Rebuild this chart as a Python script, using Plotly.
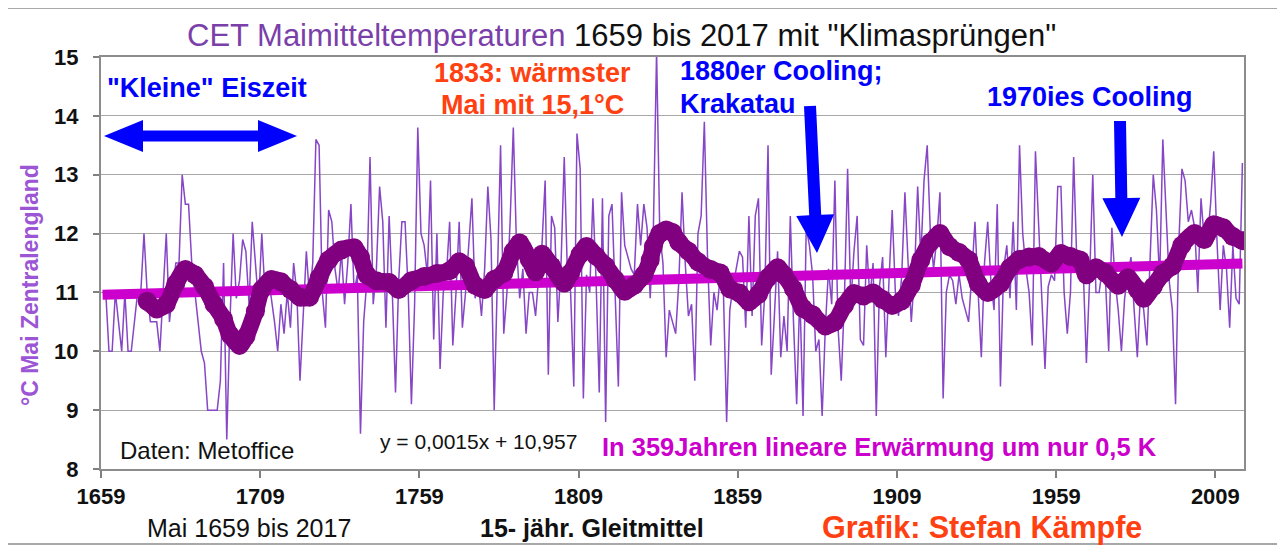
import math
import plotly.graph_objects as go

# ---------------- data ----------------
years = list(range(1659, 2018))
may_temp = [
    11.0, 11.0, 10.0, 10.0, 11.0, 10.5, 10.0, 11.0, 10.0, 10.0,   # 1659-1668
    10.5, 11.0, 11.0, 12.0, 11.0, 10.5, 10.5, 10.5, 10.0, 11.0,   # 1669-1678
    12.0, 10.5, 11.0, 11.5, 11.5, 13.0, 12.5, 12.5, 11.5, 11.0,   # 1679-1688
    10.5, 10.0, 9.8, 9.0, 9.0, 9.0, 9.0, 9.5, 11.5, 8.5,          # 1689-1698
    10.5, 12.0, 10.9, 11.2, 11.9, 11.7, 10.8, 12.2, 11.5, 10.8,   # 1699-1708
    12.0, 11.0, 11.3, 10.9, 10.5, 10.0, 10.8, 10.3, 11.0, 10.4,   # 1709-1718
    11.5, 11.0, 9.5, 10.6, 11.7, 10.9, 11.5, 13.6, 13.5, 11.0,    # 1719-1728
    10.4, 12.4, 12.2, 11.4, 11.0, 11.7, 10.8, 11.5, 12.5, 11.0,   # 1729-1738
    11.3, 8.6, 10.5, 11.2, 13.3, 10.8, 11.4, 12.8, 12.2, 10.4,    # 1739-1748
    12.3, 11.0, 9.3, 11.2, 12.2, 12.2, 11.0, 9.1, 10.8, 13.8,     # 1749-1758
    12.0, 11.8, 11.3, 12.9, 10.2, 12.0, 9.7, 11.0, 11.3, 12.2,    # 1759-1768
    10.1, 11.0, 12.2, 10.4, 11.0, 11.8, 12.6, 10.9, 11.2, 10.6,   # 1769-1778
    11.4, 12.8, 11.9, 9.0, 11.2, 13.5, 10.3, 11.0, 12.2, 13.8,    # 1779-1788
    11.8, 10.9, 11.4, 10.3, 11.0, 11.0, 10.6, 11.3, 11.8, 12.9,   # 1789-1798
    9.6, 12.3, 12.1, 10.5, 11.5, 13.3, 11.3, 11.0, 9.4, 13.7,     # 1799-1808
    13.1, 9.2, 11.3, 11.0, 12.6, 11.2, 9.3, 12.6, 8.8, 12.3,      # 1809-1818
    12.5, 11.0, 9.4, 12.7, 11.8, 11.6, 11.4, 11.3, 12.5, 11.8,    # 1819-1828
    12.5, 12.1, 10.9, 12.1, 15.1, 12.0, 11.5, 9.9, 10.7, 10.5,    # 1829-1838
    10.3, 11.2, 12.7, 11.5, 10.6, 10.8, 9.5, 12.0, 12.3, 13.9,    # 1839-1848
    11.6, 10.1, 11.0, 10.7, 11.3, 11.0, 8.8, 10.7, 11.1, 11.4,    # 1849-1858
    11.7, 11.6, 10.4, 12.3, 10.6, 12.3, 12.6, 10.1, 11.0, 13.5,   # 1859-1868
    9.6, 10.6, 11.7, 9.9, 10.6, 10.0, 12.3, 10.5, 9.1, 11.0,      # 1869-1878
    8.9, 12.1, 11.8, 11.3, 10.0, 10.2, 8.9, 10.4, 11.4, 10.8,     # 1879-1888
    12.9, 10.4, 9.5, 10.9, 13.1, 10.8, 11.7, 12.3, 10.2, 10.1,    # 1889-1898
    11.8, 10.9, 11.5, 8.9, 11.1, 11.6, 9.9, 11.2, 12.4, 11.0,     # 1899-1908
    10.6, 11.3, 12.7, 11.5, 10.5, 11.3, 12.8, 11.6, 12.9, 13.5,   # 1909-1918
    12.0, 11.4, 11.9, 12.7, 9.2, 11.0, 11.3, 11.2, 10.8, 11.3,    # 1919-1928
    10.9, 10.7, 10.5, 11.3, 12.2, 11.0, 9.9, 11.5, 12.2, 11.2,    # 1929-1938
    10.7, 12.5, 9.4, 11.4, 11.8, 10.9, 12.2, 10.7, 13.5, 12.0,    # 1939-1948
    11.4, 11.0, 10.1, 13.4, 12.0, 10.9, 9.7, 11.1, 11.3, 11.2,    # 1949-1958
    12.8, 12.8, 11.0, 10.3, 11.0, 13.3, 11.5, 11.6, 11.4, 9.8,    # 1959-1968
    11.2, 13.0, 11.0, 11.0, 11.4, 11.2, 10.0, 12.1, 11.2, 10.7,   # 1969-1978
    10.0, 10.9, 11.3, 11.6, 10.7, 9.9, 11.0, 10.7, 10.1, 11.6,    # 1979-1988
    13.0, 12.4, 11.2, 13.6, 12.3, 11.2, 10.7, 9.1, 11.8, 13.1,    # 1989-1998
    12.9, 12.2, 12.4, 12.1, 11.0, 12.6, 11.9, 11.9, 12.5, 13.4,   # 1999-2008
    11.9, 10.7, 11.8, 11.4, 10.4, 11.8, 10.9, 10.8, 13.2,         # 2009-2017
]

# 15-year moving average as drawn in the picture
ma_years = [1673, 1676, 1679, 1682, 1685, 1688, 1691, 1694, 1697, 1699,
            1702, 1704, 1707, 1709, 1712, 1715, 1718, 1721, 1724, 1727,
            1730, 1734, 1738, 1740, 1742, 1745, 1749, 1752, 1756, 1760,
            1764, 1768, 1771, 1773, 1776, 1779, 1782, 1785, 1788, 1790,
            1793, 1795, 1797, 1800, 1804, 1806, 1809, 1811, 1814, 1817,
            1820, 1823, 1826, 1829, 1831, 1832, 1834, 1836, 1838, 1840,
            1843, 1846, 1850, 1853, 1856, 1859, 1862, 1865, 1868, 1871,
            1873, 1876, 1879, 1882, 1886, 1889, 1892, 1895, 1898, 1901,
            1904, 1907, 1910, 1913, 1916, 1919, 1921, 1922, 1925, 1928,
            1931, 1934, 1937, 1941, 1944, 1947, 1950, 1953, 1957, 1960,
            1963, 1966, 1968, 1971, 1974, 1978, 1981, 1984, 1986, 1989,
            1992, 1995, 1998, 2002, 2005, 2008, 2011, 2014, 2017]
ma_vals = [10.85, 10.72, 10.80, 11.15, 11.39, 11.30, 11.10, 10.80, 10.55, 10.28,
           10.10, 10.25, 10.68, 11.05, 11.22, 11.18, 11.05, 10.92, 10.92, 11.25,
           11.55, 11.72, 11.76, 11.60, 11.30, 11.20, 11.17, 11.05, 11.20, 11.27,
           11.32, 11.37, 11.52, 11.45, 11.12, 11.05, 11.22, 11.33, 11.70, 11.84,
           11.56, 11.35, 11.65, 11.45, 11.16, 11.33, 11.65, 11.78, 11.62, 11.45,
           11.22, 11.02, 11.12, 11.30, 11.55, 11.78, 12.00, 12.06, 12.02, 11.85,
           11.70, 11.52, 11.39, 11.33, 11.06, 10.99, 10.84, 10.97, 11.25, 11.42,
           11.30, 11.06, 10.73, 10.62, 10.43, 10.50, 10.78, 10.98, 10.94, 10.99,
           10.88, 10.78, 10.86, 11.12, 11.55, 11.85, 11.95, 12.00, 11.78, 11.68,
           11.55, 11.15, 11.00, 11.15, 11.42, 11.56, 11.60, 11.61, 11.50, 11.66,
           11.61, 11.55, 11.30, 11.42, 11.33, 11.12, 11.25, 11.05, 10.90, 11.10,
           11.32, 11.45, 11.80, 12.00, 11.90, 12.15, 12.10, 11.95, 11.88]

# linear trend (y = 0,0015x + 10,957) end points as drawn
trend_years = [1659, 2017]
trend_vals = [10.96, 11.49]

x_tick_years = [1659, 1709, 1759, 1809, 1859, 1909, 1959, 2009]
y_ticks = [8, 9, 10, 11, 12, 13, 14, 15]

# ---------------- layout geometry ----------------
OFF = 8                      # page body margin of the browser
W, H = 1285 - OFF, 546 - OFF
L, R, T, B = 101, 1244, 57, 469   # plot area in window pixels
FONT = "Liberation Sans, Arial, sans-serif"
BLUE = "#0000FF"
ORANGE = "#FF4010"
MAGENTA = "#CC00CC"


def px(xp):
    return (xp - L) / (R - L)


def py(yp):
    return (B - yp) / (B - T)


def poly(pts):
    return "M " + " L ".join(f"{px(a):.5f},{py(b):.5f}" for a, b in pts) + " Z"


def arrow_path(x0, y0, x1, y1, sw, hw, hl):
    dx, dy = x1 - x0, y1 - y0
    n = math.hypot(dx, dy)
    ux, uy = dx / n, dy / n
    nx, ny = -uy, ux
    bx, by = x1 - ux * hl, y1 - uy * hl
    pts = [(x0 + nx * sw / 2, y0 + ny * sw / 2), (bx + nx * sw / 2, by + ny * sw / 2),
           (bx + nx * hw / 2, by + ny * hw / 2), (x1, y1),
           (bx - nx * hw / 2, by - ny * hw / 2), (bx - nx * sw / 2, by - ny * sw / 2),
           (x0 - nx * sw / 2, y0 - ny * sw / 2)]
    return poly(pts)


fig = go.Figure()
fig.add_trace(go.Scatter(x=years, y=may_temp, mode="lines",
                         line=dict(color="#8646C6", width=1.5), hoverinfo="x+y"))
fig.add_trace(go.Scatter(x=trend_years, y=trend_vals, mode="lines",
                         line=dict(color=MAGENTA, width=10)))
fig.add_trace(go.Scatter(x=ma_years, y=ma_vals, mode="lines+markers",
                         line=dict(color="#800080", width=17, shape="spline", smoothing=0.8),
                         marker=dict(color="#800080", size=19)))

shapes = []
# outer chart frame
shapes.append(dict(type="rect", xref="paper", yref="paper", x0=px(6), x1=px(1280), y0=py(544), y1=py(8),
                   line=dict(color="#8C8C8C", width=1.5), layer="below"))
# double arrow "Kleine Eiszeit"
shapes.append(dict(type="path", xref="paper", yref="paper",
                   path=poly([(104, 136), (143, 120), (143, 130.5), (258, 130.5), (258, 120), (297, 136),
                              (258, 152), (258, 141.5), (143, 141.5), (143, 152)]),
                   fillcolor=BLUE, line=dict(width=0)))
shapes.append(dict(type="path", xref="paper", yref="paper",
                   path=arrow_path(810, 106, 817, 253, 12, 38, 38), fillcolor=BLUE, line=dict(width=0)))
shapes.append(dict(type="path", xref="paper", yref="paper",
                   path=arrow_path(1120, 121, 1122, 237, 12, 38, 39), fillcolor=BLUE, line=dict(width=0)))


def txt(text, xp, yp, size, color, anchor="left", bold=True, angle=0):
    return dict(text=(f"<b>{text}</b>" if bold else text), x=px(xp), y=py(yp), xref="paper", yref="paper",
                xanchor=anchor, yanchor="middle", showarrow=False, textangle=angle,
                font=dict(family=FONT, size=size, color=color))


annotations = [
    dict(text='<span style="color:#7B3FAA">CET Maimitteltemperaturen</span> 1659 bis 2017 mit "Klimasprüngen"',
         x=px(621), y=py(35), xref="paper", yref="paper", xanchor="center", yanchor="middle",
         showarrow=False, font=dict(family=FONT, size=31, color="#111111")),
    txt("°C Mai Zentralengland", 30, 285, 23, "#9B55D5", anchor="center", angle=-90),
    txt('"Kleine" Eiszeit', 105, 88, 27, BLUE),
    txt("1833: wärmster", 532, 73, 27, ORANGE, anchor="center"),
    txt("Mai mit 15,1°C", 532, 105, 27, ORANGE, anchor="center"),
    txt("1880er Cooling;", 678, 71, 27, BLUE),
    txt("Krakatau", 678, 104, 27, BLUE),
    txt("1970ies Cooling", 985, 97, 27, BLUE),
    txt("Daten: Metoffice", 118, 450, 24, "#111111", bold=False),
    txt("y = 0,0015x + 10,957", 378, 441, 21, "#111111", bold=False),
    txt("In 359Jahren lineare Erwärmung um nur 0,5 K", 600, 447, 25.5, MAGENTA),
    txt("Mai 1659 bis 2017", 145, 528, 25, "#111111", bold=False),
    txt("15- jähr. Gleitmittel", 478, 528, 25, "#111111"),
    txt("Grafik: Stefan Kämpfe", 820, 527, 30.5, ORANGE),
]

fig.update_layout(
    width=W, height=H, autosize=False,
    margin=dict(l=L - OFF, r=W - (R - OFF), t=T - OFF, b=H - (B - OFF), pad=0),
    paper_bgcolor="white", plot_bgcolor="white",
    showlegend=False, shapes=shapes, annotations=annotations,
    font=dict(family=FONT),
    xaxis=dict(range=[1658.5, 2017.5], tickmode="array",
               tickvals=[y - 0.5 for y in x_tick_years], ticktext=[str(y) for y in x_tick_years],
               ticks="outside", ticklen=7, tickwidth=1.5, tickcolor="#808080",
               showline=True, linecolor="#8C8C8C", linewidth=2, mirror=True,
               showgrid=False, zeroline=False,
               tickfont=dict(family=FONT, size=22, color="#111111", weight="bold")),
    yaxis=dict(range=[8, 15], tickmode="array", tickvals=y_ticks, ticktext=[str(v) for v in y_ticks],
               ticks="outside", ticklen=6, tickwidth=1.5, tickcolor="#808080", ticklabelstandoff=10,
               showline=True, linecolor="#8C8C8C", linewidth=2, mirror=True,
               showgrid=True, gridcolor="#A8A8A8", gridwidth=1.2, zeroline=False,
               tickfont=dict(family=FONT, size=22, color="#111111", weight="bold")),
)

fig.write_html("out.html")
